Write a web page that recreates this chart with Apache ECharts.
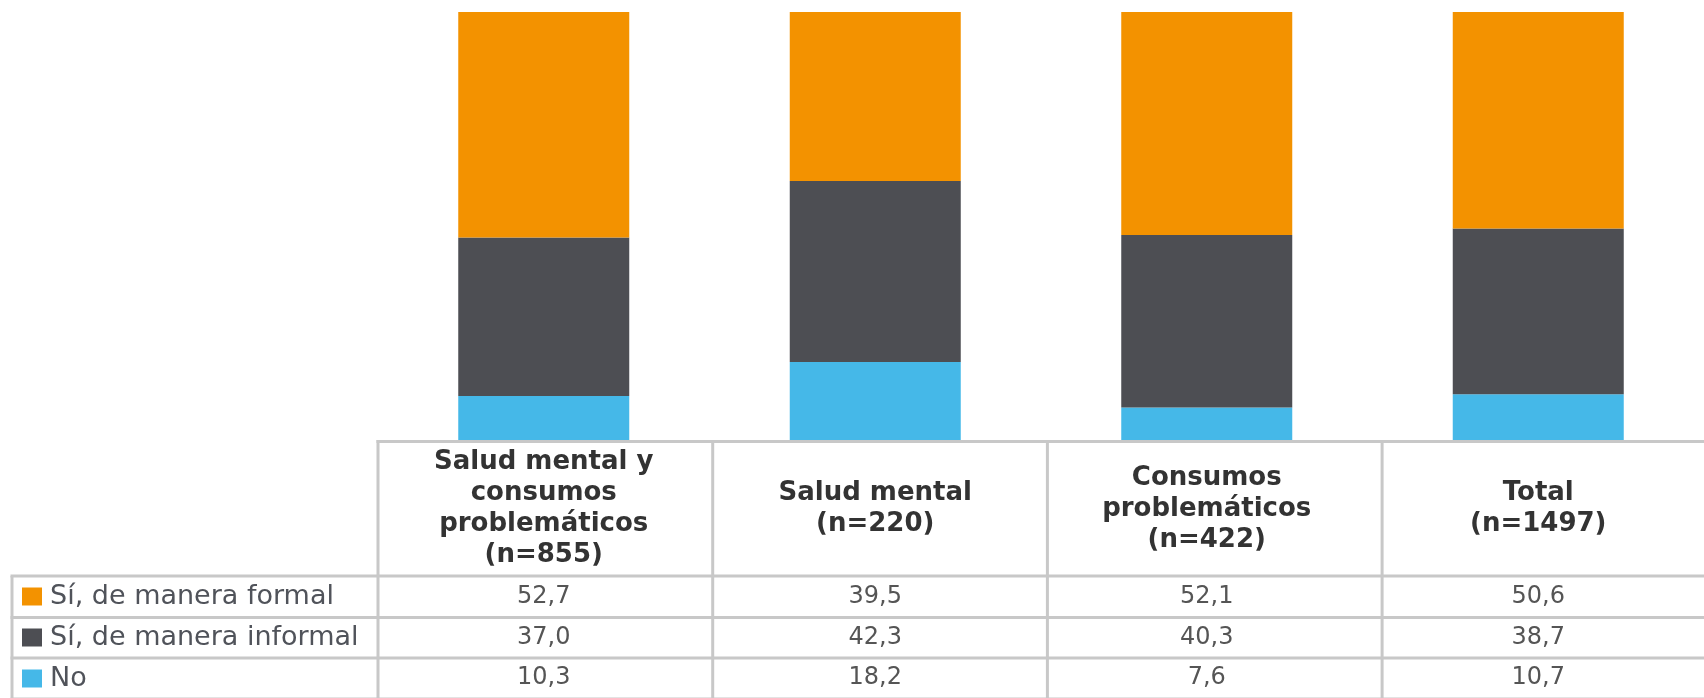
<!DOCTYPE html>
<html>
<head>
<meta charset="utf-8">
<script src="https://cdn.jsdelivr.net/npm/echarts@6/dist/echarts.min.js"></script>
<style>
html,body{margin:0;padding:0;background:#fff;}
#chart{width:1704px;height:698px;}
</style>
</head>
<body>
<div id="chart"></div>
<script>
// ---- data ----
const categories = [
  'Salud mental y\nconsumos\nproblemáticos\n(n=855)',
  'Salud mental\n(n=220)',
  'Consumos\nproblemáticos\n(n=422)',
  'Total\n(n=1497)'
];
const seriesNames = ['Sí, de manera formal', 'Sí, de manera informal', 'No'];
const formal   = [52.7, 39.5, 52.1, 50.6];
const informal = [37.0, 42.3, 40.3, 38.7];
const no       = [10.3, 18.2, 7.6, 10.7];
const colors = { formal: '#F39200', informal: '#4D4E53', no: '#45B8E8' };

// ---- layout ----
const gridLeft = 378, gridTop = 12, colW = 334.7, nCol = 4, gridH = 428;
const gridBottomY = gridTop + gridH;           // 440
const rowLines = [576, 617.5, 658, 699];       // horizontal table lines
const labelLeft = 12;
const tableRight = gridLeft + colW * nCol;
const border = '#C8C8C8';

const fmt = v => v.toFixed(1).replace('.', ',');
const rowValues = [formal, informal, no];
const rowCenters = [597, 638, 678];

const xAxes = [{
  type: 'category', data: categories, gridIndex: 0, position: 'bottom',
  axisLine: {show: false}, axisTick: {show: false}, splitLine: {show: false},
  axisLabel: {
    interval: 0, margin: 69, verticalAlign: 'middle', align: 'center',
    fontFamily: 'DejaVu Sans', fontSize: 26, fontWeight: 'bold', lineHeight: 31, color: '#333333'
  }
}];
rowValues.forEach((vals, r) => {
  xAxes.push({
    type: 'category', data: categories, gridIndex: 0, position: 'bottom',
    axisLine: {show: false}, axisTick: {show: false}, splitLine: {show: false},
    axisLabel: {
      interval: 0, margin: rowCenters[r] - gridBottomY, verticalAlign: 'middle', align: 'center',
      fontFamily: 'DejaVu Sans', fontSize: 24, color: '#555555',
      formatter: (v, i) => fmt(vals[i])
    }
  });
});

// table borders
const lines = [];
function hline(x1, x2, y) { lines.push({type: 'line', shape: {x1, y1: y, x2, y2: y}, style: {stroke: border, lineWidth: 3}, silent: true}); }
function vline(x, y1, y2) { lines.push({type: 'line', shape: {x1: x, y1, x2: x, y2}, style: {stroke: border, lineWidth: 3}, silent: true}); }
hline(gridLeft - 1.5, tableRight + 2, gridBottomY + 1.5);
rowLines.forEach(y => hline(labelLeft - 1.5, tableRight + 2, y));
for (let c = 0; c <= nCol; c++) vline(gridLeft + colW * c, gridBottomY, rowLines[rowLines.length - 1]);
vline(labelLeft, rowLines[0], rowLines[rowLines.length - 1]);

const chart = echarts.init(document.getElementById('chart'), null, {renderer: 'canvas'});
chart.setOption({
  animation: false,
  backgroundColor: '#ffffff',
  grid: {left: gridLeft, top: gridTop, width: colW * nCol, height: gridH, containLabel: false},
  legend: {
    orient: 'vertical', left: 22, top: 583, padding: 0,
    itemWidth: 20, itemHeight: 18, itemGap: 14, icon: 'rect',
    selectedMode: false,
    data: seriesNames,
    textStyle: {fontFamily: 'DejaVu Sans', fontSize: 27, lineHeight: 27, color: '#50535A', padding: [0, 0, 0, 3]}
  },
  xAxis: xAxes,
  yAxis: {type: 'value', min: 0, max: 100, show: false, splitLine: {show: false}},
  series: [
    {name: seriesNames[2], type: 'bar', stack: 't', data: no, barWidth: 171, itemStyle: {color: colors.no}, silent: true},
    {name: seriesNames[1], type: 'bar', stack: 't', data: informal, barWidth: 171, itemStyle: {color: colors.informal}, silent: true},
    {name: seriesNames[0], type: 'bar', stack: 't', data: formal, barWidth: 171, itemStyle: {color: colors.formal}, silent: true}
  ],
  graphic: lines
});
</script>
</body>
</html>
